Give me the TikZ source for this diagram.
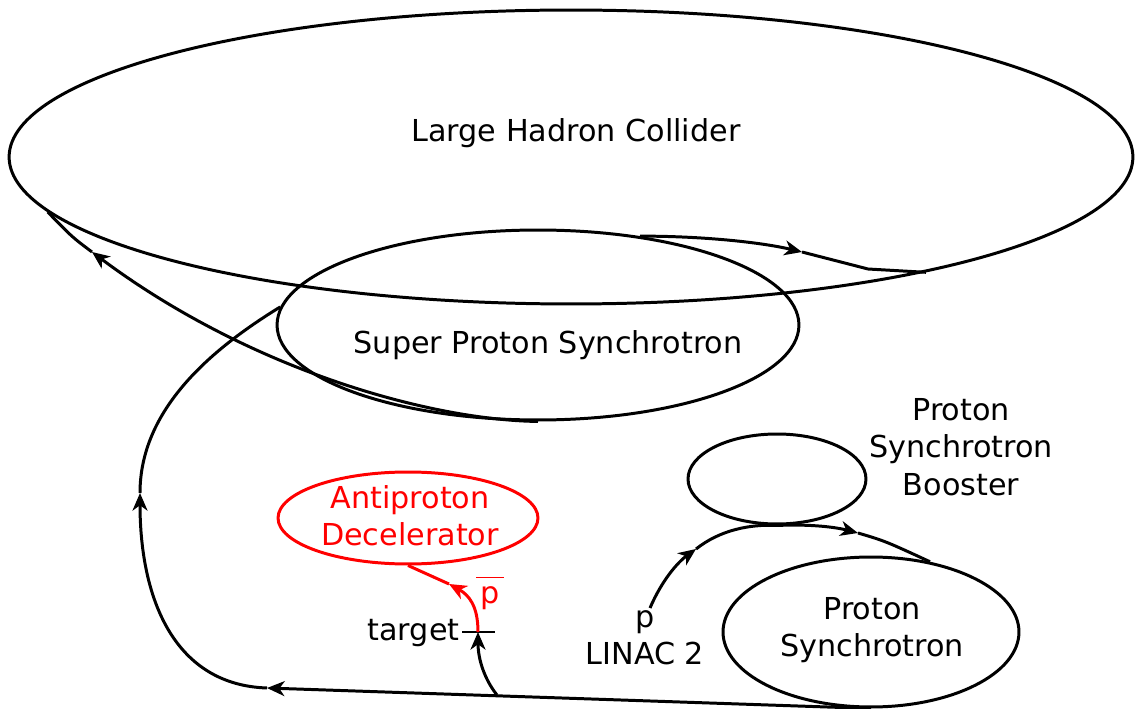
\documentclass[tikz,border=0pt]{standalone}
\usepackage{fontspec}
\setmainfont{DejaVu Sans}
\usetikzlibrary{calc,shapes.geometric,arrows.meta}

\begin{document}
\begin{tikzpicture}[x=0.02cm,y=-0.02cm,
    line width=1.7pt,
    tip/.style={-{Stealth[length=10pt,width=8.5pt,inset=3pt]}},
    ring/.style={draw,ellipse,inner sep=0pt},
    lbl/.style={align=center,inner sep=0pt,font=\fontsize{17.2}{21.3}\selectfont}]
    \useasboundingbox (0,0) rectangle (1136,709);

    % the rings
    \node[ring,minimum width=22.48cm,minimum height=5.88cm] (lhc) at (571,157) {};
    \node[ring,minimum width=10.44cm,minimum height=3.8cm]  (sps) at (538,325) {};
    \node[ring,minimum width=3.56cm,minimum height=1.8cm]   (psb) at (777,479) {};
    \node[ring,minimum width=5.92cm,minimum height=3cm]     (ps)  at (871,632) {};
    \node[ring,red,minimum width=5.2cm,minimum height=1.84cm] (ad) at (408,518) {};

    \node[lbl] (lhc-txt) at (576,133) {Large Hadron Collider};
    \node[lbl] (sps-txt) at (548,345) {Super Proton Synchrotron};
    \node[lbl] (psb-txt) at (961,447) {Proton\\Synchrotron\\Booster};
    \node[lbl] (ps-txt)  at (872,630) {Proton\\Synchrotron};
    \node[lbl,red] (ad-txt) at (410,516) {Antiproton\\Decelerator};
    \node[lbl] (linac) at (645,638) {p\\LINAC 2};
    \node[lbl,anchor=east] (tgt-txt) at (461,633) {target};
    \node[lbl,red] (pbar) at (490,593) {$\overline{\hbox{\kern2.5pt\vphantom{d}p\kern2.5pt}}$};

    % points where the beam lines turn or carry a tip
    \coordinate (lin) at (650,608);
    \coordinate (tgt) at (478,632);
    \coordinate (br)  at (497,695);
    \coordinate (a1)  at (267,688);
    \coordinate (a2)  at (140,493);
    \coordinate (a3)  at (449,584);
    \coordinate (a4)  at (92,252);
    \coordinate (a5)  at (802,252);
    \coordinate (c1)  at (868,269);
    \coordinate (a6)  at (696,549);
    \coordinate (a7)  at (858,533);

    % linac -> booster -> PS
    \draw[tip] (lin) .. controls (662,580) and (678,562) .. (a6);
    \draw (a6) .. controls (720,530) and (750,524) .. (psb.south);
    \draw[tip] (psb.south) .. controls (810,524) and (835,527) .. (a7);
    \draw (a7) .. controls (885,541) .. (ps.50);

    % PS -> SPS
    \draw[tip] (ps.south) -- (a1);
    \draw[tip] (a1) .. controls (175,685) and (140,600) .. (a2);
    \draw (a2) .. controls (140,410) and (210,350) .. (sps.176);

    % target and antiprotons
    \draw[tip] (br) .. controls (485,680) and (478,660) .. (tgt);
    \draw ($(tgt)+(-16,0)$) -- ($(tgt)+(17,0)$);
    \draw[red,tip] (tgt) .. controls (478,606) and (469,595) .. (a3);
    \draw[red] (a3) -- (ad.south);

    % SPS -> LHC, both ways round
    \draw[tip] (sps.south) .. controls (430,420) and (250,370) .. (a4);
    \draw (a4) .. controls (72,237) .. (lhc.186);
    \draw[tip] (sps.41) .. controls (700,236) and (760,242) .. (a5);
    \draw (a5) -- (c1) -- (lhc.-18);
\end{tikzpicture}
\end{document}
